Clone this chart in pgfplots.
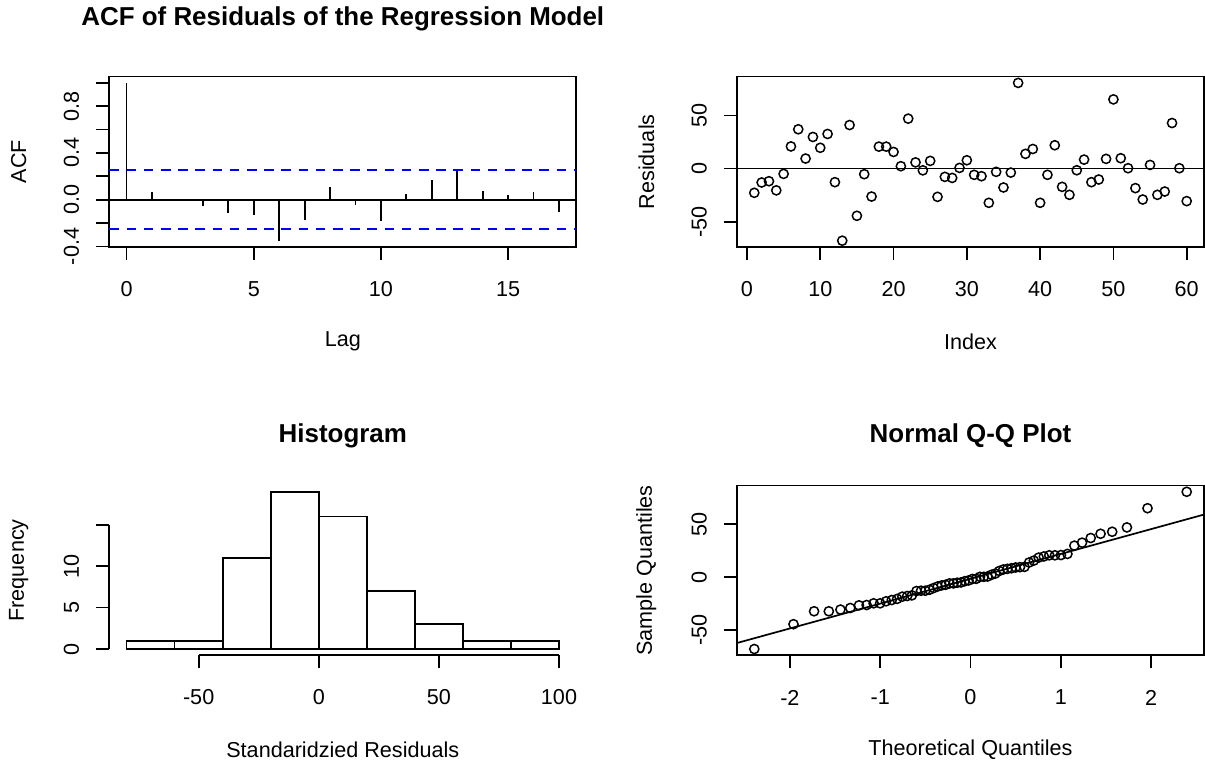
\documentclass[border=0pt]{standalone}
\usepackage{pgfplots}
\pgfplotsset{compat=1.18}
\usepackage{fontspec}
\setmainfont{Liberation Sans}
\pgfplotstableread{
idx val
1 -22.8
2 -13.1
3 -11.9
4 -20.5
5 -5.0
6 20.8
7 36.9
8 9.4
9 29.7
10 19.5
11 32.5
12 -12.8
13 -67.8
14 40.9
15 -44.4
16 -5.3
17 -26.3
18 20.6
19 20.6
20 15.6
21 2.2
22 46.9
23 5.8
24 -1.7
25 7.2
26 -26.6
27 -7.8
28 -8.8
29 0.6
30 7.8
31 -5.9
32 -7.2
33 -32.2
34 -3.1
35 -17.8
36 -3.8
37 80.5
38 13.8
39 18.4
40 -32.2
41 -5.9
42 21.9
43 -17.2
44 -24.7
45 -1.6
46 8.4
47 -12.8
48 -10.3
49 9.1
50 65.0
51 9.7
52 0.3
53 -18.4
54 -29.1
55 3.4
56 -24.7
57 -21.6
58 42.8
59 0.3
60 -30.6
}\resid
\pgfplotstableread{
q s
-2.394 -67.8
-1.960 -44.4
-1.732 -32.2
-1.569 -32.2
-1.440 -30.6
-1.331 -29.1
-1.235 -26.6
-1.150 -26.3
-1.073 -24.7
-1.001 -24.7
-0.935 -22.8
-0.872 -21.6
-0.812 -20.5
-0.755 -18.4
-0.701 -17.8
-0.649 -17.2
-0.598 -13.1
-0.548 -12.8
-0.500 -12.8
-0.454 -11.9
-0.408 -10.3
-0.363 -8.8
-0.319 -7.8
-0.275 -7.2
-0.232 -5.9
-0.189 -5.9
-0.147 -5.3
-0.105 -5.0
-0.063 -3.8
-0.021 -3.1
0.021 -1.7
0.063 -1.6
0.105 0.3
0.147 0.3
0.189 0.6
0.232 2.2
0.275 3.4
0.319 5.8
0.363 7.2
0.408 7.8
0.454 8.4
0.500 9.1
0.548 9.4
0.598 9.7
0.649 13.8
0.701 15.6
0.755 18.4
0.812 19.5
0.872 20.6
0.935 20.6
1.001 20.8
1.073 21.9
1.150 29.7
1.235 32.5
1.331 36.9
1.440 40.9
1.569 42.8
1.732 46.9
1.960 65.0
2.394 80.5
}\qq
\begin{document}
\fontsize{10.8}{13}\selectfont
\begin{tikzpicture}
\path[use as bounding box] (0,0) rectangle (602.5pt,380.5pt);
\pgfplotsset{
 rpanel/.style={
  scale only axis, width=233.5pt, height=85.2pt, anchor=south west,
  tick align=outside, major tick length=6.5pt,
  every tick/.style={black, line width=0.85pt},
  axis line style={line width=0.85pt},
  xtick pos=bottom, ytick pos=left,
  tick label style={font=\fontsize{10.8}{13}\selectfont},
  xticklabel style={anchor=center, yshift=-14.6pt},
  yticklabel style={xshift=-12.4pt, rotate=90, anchor=center},
  label style={font=\fontsize{10.8}{13}\selectfont},
  title style={font=\fontsize{12.96}{15}\selectfont\bfseries, anchor=center, yshift=-6.3pt},
  xlabel style={at={(axis description cs:0.5,-0.554)}, anchor=center},
  ylabel style={at={(axis description cs:-0.194,0.5)}, anchor=center},
  clip=false,
 }
}
% ACF
\begin{axis}[rpanel, at={(54.65pt,257pt)},
  xmin=-0.68, xmax=17.68, ymin=-0.405, ymax=1.054,
  xtick={0,5,10,15}, xticklabels={0,5,10,15},
  ytick={-0.4,-0.2,0,0.2,0.4,0.6,0.8,1.0},
  yticklabels={-0.4,{},0.0,{},0.4,{},0.8,{}},
  xlabel={Lag}, ylabel={ACF},
  title={ACF of Residuals of the Regression Model},
  title style={at={(axis description cs:0.5,1.342)}}]
\addplot[ycomb, black, line width=0.9pt] coordinates {
(0,1) (1,0.066) (2,0.01) (3,-0.057) (4,-0.114) (5,-0.131) (6,-0.351)
(7,-0.171) (8,0.109) (9,-0.043) (10,-0.183) (11,0.051) (12,0.166)
(13,0.262) (14,0.074) (15,0.04) (16,0.069) (17,-0.109)};
\addplot[black, line width=0.85pt] coordinates {(-0.68,0) (17.68,0)};
\addplot[blue, line width=0.85pt, dash pattern=on 4.8pt off 3.8pt] coordinates {(-0.68,0.253) (17.68,0.253)};
\addplot[blue, line width=0.85pt, dash pattern=on 4.8pt off 3.8pt] coordinates {(-0.68,-0.253) (17.68,-0.253)};
\end{axis}
% Residuals
\begin{axis}[rpanel, at={(368.5pt,257pt)},
  xmin=-1.36, xmax=62.36, ymin=-73.73, ymax=86.43,
  xtick={0,10,20,30,40,50,60}, xticklabels={0,10,20,30,40,50,60},
  ytick={-50,0,50}, yticklabels={-50,0,50},
  xlabel={Index}, ylabel={Residuals}]
\addplot[black, line width=0.85pt] coordinates {(-1.36,0) (62.36,0)};
\addplot[black, only marks, mark=o, mark size=2.3pt, line width=0.75pt] table[x=idx, y=val] {\resid};
\end{axis}
% Histogram
\begin{axis}[rpanel, height=84.9pt, at={(54.65pt,52.85pt)},
  xmin=-87.2, xmax=107.2, ymin=-0.76, ymax=19.76,
  axis line style={draw=none},
  xtick={-50,0,50,100}, xticklabels={-50,0,50,100},
  ytick={0,5,10,15}, yticklabels={0,5,10,{}},
  xlabel={Standaridzied Residuals}, ylabel={Frequency},
  xlabel style={at={(axis description cs:0.5,-0.556)}},
  title={Histogram},
  title style={at={(axis description cs:0.5,1.297)}}]
\addplot[ybar interval, draw=black, fill=white, line width=0.85pt] coordinates {
(-80,1) (-60,1) (-40,11) (-20,19) (0,16) (20,7) (40,3) (60,1) (80,1) (100,1)};
\draw[line width=0.85pt] (axis cs:-50,-0.76) -- (axis cs:100,-0.76);
\draw[line width=0.85pt] (axis cs:-87.2,0) -- (axis cs:-87.2,15);
\end{axis}
% QQ
\begin{axis}[rpanel, height=84.9pt, at={(368.5pt,52.85pt)},
  xmin=-2.5855, xmax=2.5855, ymin=-73.73, ymax=86.43,
  xtick={-2,-1,0,1,2}, xticklabels={-2,-1,0,1,2},
  ytick={-50,0,50}, yticklabels={-50,0,50},
  xlabel={Theoretical Quantiles}, ylabel={Sample Quantiles},
  xlabel style={at={(axis description cs:0.5,-0.556)}},
  title={Normal Q-Q Plot},
  title style={at={(axis description cs:0.5,1.299)}}]
\addplot[black, only marks, mark=o, mark size=2.3pt, line width=0.75pt] table[x=q, y=s] {\qq};
\addplot[black, line width=0.85pt] coordinates {(-2.5855,-62.13) (2.5855,59.03)};
\end{axis}
\end{tikzpicture}
\end{document}
